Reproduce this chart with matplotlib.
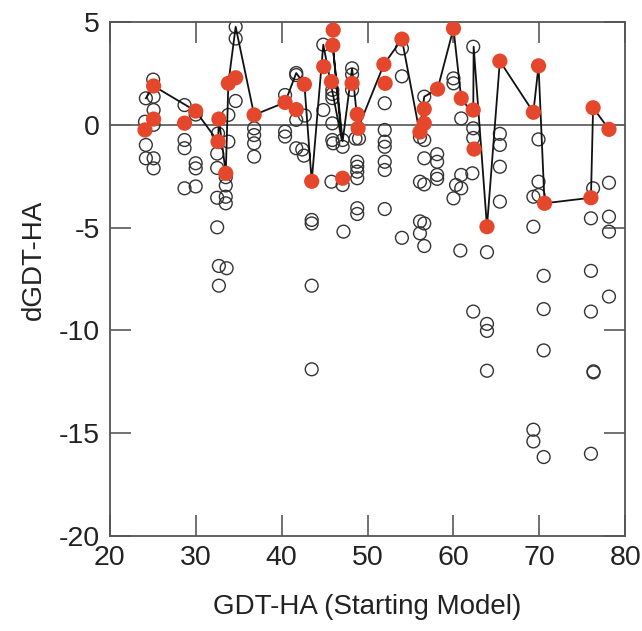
import matplotlib
matplotlib.use("Agg")
import matplotlib.pyplot as plt

plt.rcParams['font.family'] = ['Liberation Sans', 'DejaVu Sans']
plt.rcParams['axes.unicode_minus'] = False

# open circles: all models (starting GDT-HA, dGDT-HA)
open_x = [24.2, 25.05, 25.1, 25.1, 24.1, 25.1, 24.2, 24.2, 25.1, 25.1,
          28.7, 28.7, 28.7, 30.0, 30.0, 28.7, 30.0, 30.0,
          32.6, 33.8, 33.8, 34.65, 34.65, 34.65,
          32.5, 32.5, 33.5, 33.5, 32.5, 33.5, 33.5, 32.5, 32.7, 33.6, 32.7,
          36.8, 36.8, 36.8, 36.8,
          40.4, 40.4, 40.4, 41.7, 41.7, 41.7, 41.7, 42.4, 42.6, 42.7,
          43.5, 43.5, 43.5, 43.5,
          44.85, 44.85, 45.9, 45.9, 45.9, 45.9, 45.9, 46.0, 45.8,
          47.1, 47.1, 47.1, 47.2,
          48.2, 48.2, 48.2, 48.6, 49.0, 48.8, 48.8, 48.8, 48.8, 48.8, 48.8,
          52.0, 52.0, 52.0, 52.0, 52.0, 52.0, 52.0,
          54.0, 54.0, 54.0,
          56.6, 56.6, 56.1, 56.6, 56.1, 56.6, 56.1, 56.6, 56.1, 56.6,
          58.1, 58.1, 58.1, 58.1,
          60.0, 60.0, 60.9, 60.9, 60.3, 60.9, 60.0, 60.8,
          62.3, 62.3, 62.3, 62.2, 62.3,
          63.9, 63.9, 63.9, 63.9,
          65.4, 65.4, 65.4, 65.4,
          69.9, 69.9, 69.3, 69.9, 69.3, 70.5, 70.5, 70.5, 69.3, 69.3, 70.5,
          76.25, 78.1, 76.0, 78.1, 78.1, 76.0, 78.1, 76.0, 76.3, 76.3, 76.0]
open_y = [1.29, 2.2, 1.37, 0.72, 0.15, 0.0, -0.98, -1.63, -1.63, -2.12,
          0.96, -0.74, -1.14, -1.87, -2.12, -3.09, -3.0, 0.5,
          -0.42, -0.82, 0.48, 1.16, 4.77, 4.2,
          -1.4, -2.1, -2.55, -2.95, -3.55, -3.5, -3.82, -4.99, -6.87, -6.98, -7.83,
          -0.17, -0.5, -0.9, -1.55,
          1.45, -0.33, -0.57, 2.52, 2.42, 0.24, -1.14, -1.2, -1.5, 0.45,
          -4.63, -4.8, -7.83, -11.9,
          3.9, 0.72, 1.7, 1.5, 1.3, 0.07, -0.74, -0.9, -2.77,
          -0.74, -1.07, -2.93, -5.2,
          2.75, 2.45, 1.7, -0.67, -0.67, -1.8, -2.04, -2.28, -2.6, -4.06, -4.34,
          1.05, -0.25, -0.82, -1.07, -1.8, -2.2, -4.1,
          3.72, 2.36, -5.5,
          1.37, -0.74, -0.6, -1.63, -2.77, -2.9, -4.7, -4.8, -5.28, -5.9,
          -1.43, -1.8, -2.44, -2.63,
          2.26, 2.02, 0.31, -2.44, -2.93, -3.09, -3.58, -6.12,
          3.8, -0.17, -0.64, -2.36, -9.09,
          -6.2, -9.69, -10.03, -11.97,
          -0.44, -0.98, -2.04, -3.74,
          -0.71, -2.77, -3.5, -3.42, -4.96, -7.35, -8.97, -10.98, -14.84, -15.41, -16.17,
          -3.09, -2.82, -4.55, -4.47, -5.2, -7.11, -8.36, -9.09, -12.0, -12.05, -16.01]

# red filled points: selected models
red_x = [24.1, 25.1, 25.1, 28.7, 30.0, 32.6, 32.7, 33.5, 33.8, 34.65, 36.8,
         40.4, 41.7, 42.65, 43.5, 44.9, 46.0, 45.95, 45.8, 47.1, 48.2, 48.8,
         48.9, 51.9, 52.05, 54.0, 56.1, 56.6, 56.6, 58.15, 60.0, 60.9, 62.3,
         62.4, 63.9, 65.4, 69.3, 69.9, 70.6, 76.0, 76.25, 78.1]
red_y = [-0.25, 1.89, 0.28, 0.08, 0.67, -0.82, 0.28, -2.36, 2.02, 2.29, 0.48,
         1.09, 0.74, 1.97, -2.75, 2.83, 4.61, 3.87, 2.1, -2.6, 2.02, 0.51,
         -0.17, 2.94, 2.02, 4.17, -0.35, 0.07, 0.77, 1.74, 4.69, 1.29, 0.72,
         -1.18, -4.96, 3.1, 0.61, 2.87, -3.82, -3.55, 0.83, -0.22]

# connecting line
line_x = [24.2, 25.1, 30.0, 32.6, 32.7, 33.5, 33.8, 34.65, 36.8, 40.4, 41.7,
          42.65, 43.5, 44.85, 47.0, 45.95, 47.1, 48.2, 48.9, 51.9, 54.0, 56.05,
          56.6, 58.15, 60.0, 60.9, 62.3, 62.35, 63.9, 65.4, 69.3, 69.9, 70.6,
          76.0, 76.25, 78.1]
line_y = [1.29, 1.89, 0.67, -0.82, 0.28, -2.36, 2.02, 4.77, 0.48, 1.09, 2.52,
          1.97, -2.75, 3.9, -0.74, 3.87, -0.8, 2.75, -0.17, 2.94, 4.17, -0.35,
          1.37, 1.74, 4.69, 1.29, 0.5, 3.8, -4.96, 3.1, 0.61, 2.87, -3.82,
          -3.55, 0.83, -0.22]

xticks = [20, 30, 40, 50, 60, 70, 80]
yticks = [5, 0, -5, -10, -15, -20]

fig = plt.figure(figsize=(6.42, 6.31), dpi=100)
ax = fig.add_axes([0.171, 0.151, 0.803, 0.814])

ax.axhline(0, color='#555555', lw=1.2, zorder=1)
ax.scatter(open_x, open_y, s=85, facecolors='none', edgecolors='#333333',
           linewidths=1.0, zorder=2)
ax.plot(line_x, line_y, color='#111111', lw=1.3, zorder=3)
ax.scatter(red_x, red_y, s=120, color='#E4472B', edgecolors='none', zorder=4)

ax.set_xlim(20, 80)
ax.set_ylim(-20, 5)
ax.set_xticks(xticks)
ax.set_yticks(yticks)
ax.tick_params(direction='in', length=15, width=1.3, color='#666666',
               top=True, right=True, labelsize=20.5, labelcolor='#222222', pad=7)
for s in ax.spines.values():
    s.set_color('#555555')
    s.set_linewidth(1.3)

ax.set_xlabel('GDT-HA (Starting Model)', fontsize=20, color='#222222', labelpad=16)
ax.set_ylabel('dGDT-HA', fontsize=20, color='#222222')
ax.yaxis.set_label_coords(-0.122, 0.537)

fig.savefig('out.png', dpi=100)
